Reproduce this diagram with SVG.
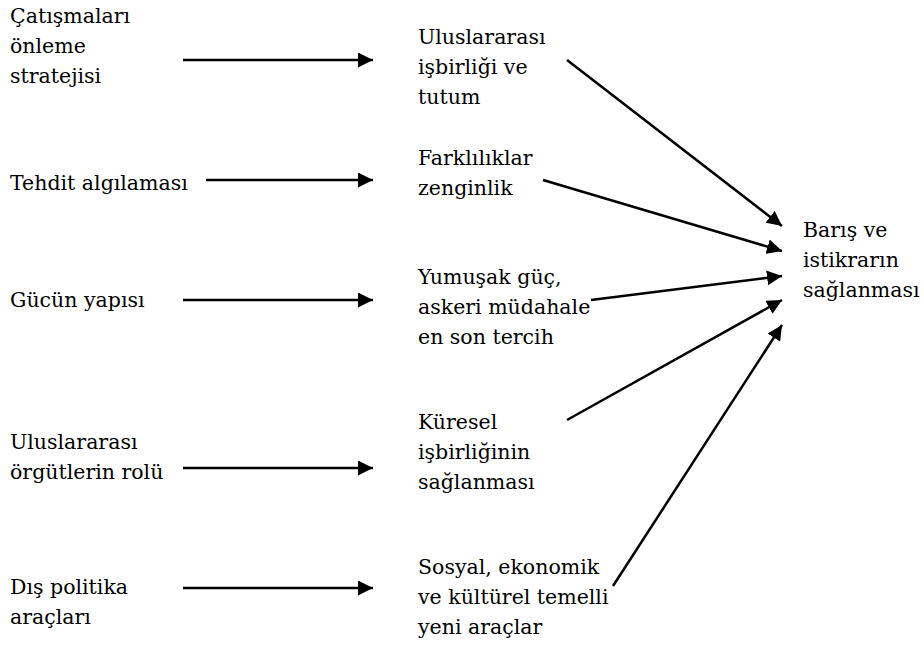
<svg xmlns="http://www.w3.org/2000/svg" width="924" height="648" viewBox="0 0 924 648">
<defs>
<style>
text{font-family:"DejaVu Serif","Liberation Serif","Times New Roman",serif;font-size:20.5px;fill:#000}
.c line{stroke:#000;stroke-width:2.5;marker-end:url(#ah)}
</style>
<marker id="ah" viewBox="0 0 10 10" refX="10" refY="5" markerWidth="6" markerHeight="6" markerUnits="strokeWidth" orient="auto">
<path d="M0,0 L10,5 L0,10 z" fill="#000"/>
</marker>
</defs>
<rect width="924" height="648" fill="#fff"/>
<g id="n1"><text x="10" y="23">Çatışmaları</text><text x="10" y="53">önleme</text><text x="10" y="83">stratejisi</text></g>
<g id="n2"><text x="10" y="190">Tehdit algılaması</text></g>
<g id="n3"><text x="10" y="307">Gücün yapısı</text></g>
<g id="n4"><text x="10" y="449">Uluslararası</text><text x="10" y="479">örgütlerin rolü</text></g>
<g id="n5"><text x="10" y="594">Dış politika</text><text x="10" y="624">araçları</text></g>
<g id="m1"><text x="418" y="44">Uluslararası</text><text x="418" y="74">işbirliği ve</text><text x="418" y="104">tutum</text></g>
<g id="m2"><text x="418" y="165">Farklılıklar</text><text x="418" y="195">zenginlik</text></g>
<g id="m3"><text x="418" y="284">Yumuşak güç,</text><text x="418" y="314">askeri müdahale</text><text x="418" y="344">en son tercih</text></g>
<g id="m4"><text x="418" y="429">Küresel</text><text x="418" y="459">işbirliğinin</text><text x="418" y="489">sağlanması</text></g>
<g id="m5"><text x="418" y="574">Sosyal, ekonomik</text><text x="418" y="604">ve kültürel temelli</text><text x="418" y="634">yeni araçlar</text></g>
<g id="r"><text x="803" y="237">Barış ve</text><text x="803" y="267">istikrarın</text><text x="803" y="297">sağlanması</text></g>
<g class="c" id="connectors">
<line x1="183" y1="60" x2="373" y2="60"/>
<line x1="206" y1="180" x2="373" y2="180"/>
<line x1="183" y1="300" x2="373" y2="300"/>
<line x1="183" y1="468" x2="373" y2="468"/>
<line x1="183" y1="588" x2="373" y2="588"/>
<line x1="567" y1="60" x2="782" y2="226"/>
<line x1="543" y1="180" x2="782" y2="251"/>
<line x1="591" y1="300" x2="782" y2="276"/>
<line x1="567" y1="420" x2="782" y2="300"/>
<line x1="613" y1="586" x2="782" y2="325"/>
</g>
</svg>
